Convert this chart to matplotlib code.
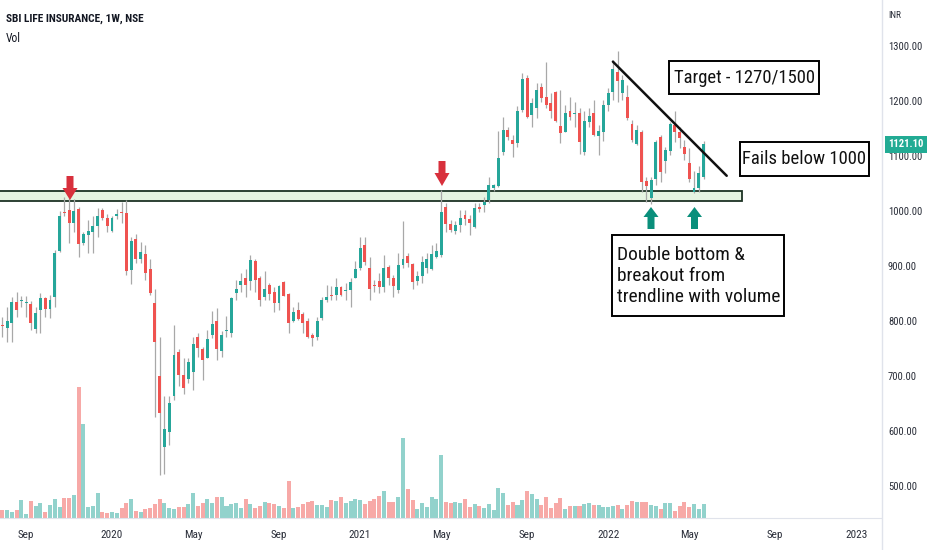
import numpy as np
import pandas as pd
import matplotlib
matplotlib.use("Agg")
import matplotlib.pyplot as plt
import matplotlib.dates as mdates
from matplotlib.patches import Rectangle, Polygon
from matplotlib.lines import Line2D
import logging
logging.getLogger('matplotlib.font_manager').setLevel(logging.ERROR)

plt.rcParams['font.family'] = ['Roboto Condensed', 'Liberation Sans Narrow', 'Liberation Sans', 'DejaVu Sans']

# ---------------- data (weekly candles) ----------------
dates = pd.date_range('2019-07-29', periods=148, freq='7D')

opens = [792, 788, 796, 835, 836, 832, 831, 785, 820, 842, 822, 844, 927, 998, 1001, 979, 1003, 941, 957, 962,
         973, 1002, 987, 964, 990, 998, 997, 892, 949, 913, 921, 894, 833, 700, 570, 598, 664, 743, 702, 694,
         708, 770, 749, 733, 775, 800, 746, 781, 778, 850, 865, 878, 873, 909, 879, 843, 865, 853, 833, 870,
         849, 800, 820, 812, 800, 775, 770, 805, 838, 846, 847, 862, 854, 856, 879, 896, 938, 897, 865, 873,
         862, 898, 879, 856, 902, 918, 903, 873, 882, 897, 895, 917, 920, 1007, 976, 964, 975, 993, 985, 970,
         1008, 1011, 1020, 1041, 1046, 1108, 1147, 1129, 1123, 1184, 1241, 1175, 1187, 1226, 1208, 1197, 1217, 1155, 1144, 1181,
         1176, 1179, 1108, 1162, 1179, 1136, 1144, 1193, 1216, 1253, 1214, 1207, 1159, 1121, 1143, 1055, 1023, 1059, 1135, 1090,
         1109, 1156, 1143, 1117, 1087, 1034, 1041, 1061]
highs = [808, 826, 843, 852, 846, 846, 836, 825, 850, 844, 848, 929, 1000, 1026, 1024, 1021, 1008, 962, 984, 990,
         1005, 1005, 995, 990, 1003, 1017, 1020, 953, 958, 944, 939, 912, 859, 771, 664, 664, 793, 749, 732, 732,
         771, 778, 753, 784, 819, 823, 781, 809, 844, 875, 887, 894, 920, 912, 881, 890, 869, 861, 865, 873,
         850, 826, 835, 817, 806, 779, 808, 844, 865, 864, 879, 863, 869, 878, 909, 953, 953, 917, 875, 887,
         920, 902, 884, 923, 982, 923, 905, 890, 918, 923, 938, 941, 1038, 1014, 984, 981, 1002, 1002, 993, 1014,
         1015, 1025, 1062, 1049, 1145, 1171, 1153, 1138, 1190, 1250, 1247, 1205, 1232, 1232, 1271, 1214, 1219, 1220, 1193, 1208,
         1199, 1188, 1181, 1187, 1202, 1156, 1202, 1223, 1275, 1290, 1247, 1229, 1165, 1156, 1147, 1062, 1062, 1129, 1138, 1117,
         1162, 1181, 1153, 1129, 1114, 1073, 1081, 1127]
lows = [771, 762, 762, 808, 826, 808, 784, 778, 778, 808, 806, 826, 925, 990, 942, 962, 916, 938, 923, 924,
        953, 984, 961, 962, 985, 978, 884, 867, 905, 905, 875, 847, 626, 520, 521, 575, 656, 681, 668, 687,
        675, 735, 693, 732, 769, 729, 735, 771, 771, 838, 853, 844, 856, 853, 827, 838, 838, 817, 820, 845,
        779, 799, 802, 779, 769, 755, 766, 802, 835, 838, 839, 845, 838, 825, 878, 893, 902, 838, 853, 850,
        853, 865, 844, 850, 896, 899, 859, 865, 869, 887, 893, 914, 917, 962, 962, 959, 962, 975, 956, 969,
        999, 998, 1014, 1037, 1044, 1102, 1129, 1099, 1117, 1180, 1169, 1152, 1169, 1199, 1187, 1169, 1162, 1123, 1143, 1165,
        1153, 1103, 1102, 1153, 1136, 1102, 1128, 1181, 1202, 1199, 1202, 1165, 1126, 1120, 1035, 1017, 1012, 1047, 1053, 1069,
        1102, 1126, 1114, 1093, 1053, 1032, 1035, 1058]
closes = [790, 800, 834, 820, 838, 834, 796, 815, 841, 822, 838, 923, 991, 996, 979, 1000, 940, 958, 964, 973,
          991, 987, 973, 987, 995, 996, 891, 945, 912, 925, 888, 851, 761, 633, 603, 650, 738, 701, 678, 725,
          758, 750, 729, 767, 795, 749, 775, 783, 842, 859, 873, 865, 911, 875, 838, 859, 849, 832, 864, 846,
          796, 817, 804, 797, 770, 769, 800, 839, 844, 845, 861, 847, 856, 871, 894, 932, 907, 859, 863, 861,
          896, 879, 864, 902, 912, 905, 870, 882, 908, 913, 921, 927, 998, 976, 965, 975, 988, 985, 979, 1005,
          1003, 1017, 1047, 1047, 1096, 1147, 1135, 1121, 1182, 1240, 1170, 1196, 1220, 1205, 1193, 1182, 1164, 1141, 1179, 1170,
          1179, 1126, 1164, 1173, 1138, 1145, 1193, 1214, 1259, 1237, 1238, 1169, 1129, 1147, 1053, 1046, 1056, 1126, 1071, 1111,
          1158, 1143, 1132, 1103, 1059, 1041, 1069, 1121.1]
volume = [8, 8, 6, 8, 18, 4, 17, 12, 15, 6, 13, 19, 11, 20, 20, 23, 131, 94, 11, 12,
          25, 6, 5, 6, 5, 10, 15, 19, 7, 6, 9, 10, 14, 19, 15, 10, 9, 11, 11, 14,
          25, 12, 15, 19, 15, 21, 21, 12, 14, 15, 10, 19, 14, 10, 12, 16, 15, 14, 12, 10,
          37, 10, 11, 14, 16, 17, 13, 13, 11, 18, 17, 21, 15, 17, 19, 18, 14, 17, 19, 22,
          27, 16, 16, 21, 80, 29, 18, 9, 15, 11, 21, 19, 63, 16, 15, 16,
          15, 19, 11, 14, 12, 10, 14, 8, 30, 25, 13, 16, 13, 18, 27, 24, 19, 13, 21, 10,
          15, 20, 9, 12, 12, 12, 14, 15, 13, 13, 11, 11, 12, 13, 9, 13, 17, 16, 16, 16,
          13, 12, 9, 15, 15, 7, 12, 16, 11, 14, 9, 14]

price_ticks = [500, 600, 700, 800, 900, 1000, 1100, 1200, 1300]
time_ticks = ['2019-09-02', '2020-01-06', '2020-05-04', '2020-09-07', '2021-01-04', '2021-05-03',
              '2021-09-06', '2022-01-03', '2022-05-02', '2022-09-05', '2023-01-02']
time_labels = ['Sep', '2020', 'May', 'Sep', '2021', 'May', 'Sep', '2022', 'May', 'Sep', '2023']

support_zone = [1019, 1036]
support_end = '2022-07-19'
trend_dates = ['2022-01-10', '2022-06-26']
trend_prices = [1271.5, 1064]
last_price = 1121.10

# ---------------- styling ----------------
UP, DOWN = '#26a69a', '#ef5350'
VUP, VDOWN = '#92d2cc', '#f7a9a7'
WICK = '#a8a8a8'
W, H = 932, 550

fig = plt.figure(figsize=(W / 100, H / 100), dpi=100)
renderer = fig.canvas.get_renderer()


def fitted_size(s, target_w, weight='normal'):
    t = fig.text(0, 0, s, fontsize=10, fontweight=weight)
    w = t.get_window_extent(renderer).width
    t.remove()
    return 10 * target_w / w


tick_size = fitted_size('1300.00', 34)
xtick_size = fitted_size('2020', 22)

ax = fig.add_axes([0, 32 / H, 881 / W, 518 / H])

x = mdates.date2num(dates)
o = np.array(opens, float); h = np.array(highs, float)
l = np.array(lows, float); c = np.array(closes, float)
up = c >= o
col = np.where(up, UP, DOWN)
vcol = np.where(up, VUP, VDOWN)

# volume overlay
axv = ax.twinx()
axv.bar(x, volume, width=5.9, color=vcol, linewidth=0)
axv.set_ylim(0, 518)
axv.axis('off')
axv.set_zorder(0)
ax.set_zorder(1)
ax.patch.set_visible(False)

# support zone
x_left = x[0] - 30
ax.add_patch(Rectangle((x_left, support_zone[0]), mdates.datestr2num(support_end) - x_left,
                       support_zone[1] - support_zone[0], facecolor='#e6f4e2', edgecolor='#1d3324',
                       linewidth=1.3, zorder=1))

# candles
ax.vlines(x, l, h, color=WICK, linewidth=0.9, zorder=2)
body = np.maximum(np.abs(c - o), 1.6)
ax.bar(x, body, bottom=np.minimum(o, c), width=4.3, color=col, linewidth=0, zorder=3)

# trend line
ax.plot(mdates.datestr2num(trend_dates), trend_prices, color='#111111', linewidth=1.8, zorder=4,
        solid_capstyle='round')

x0 = x[0]
ax.set_xlim(x0 - 0.48 * 7, x0 + 184.2 * 7)
ax.set_ylim(441.8, 1383.6)

ax.yaxis.tick_right()
ax.set_yticks(price_ticks)
ax.set_yticklabels([f'{v:.2f}' for v in price_ticks])
ax.set_xticks(mdates.datestr2num(time_ticks))
ax.set_xticklabels(time_labels)
ax.tick_params(axis='both', length=0, labelcolor='#2a2e39')
ax.tick_params(axis='y', pad=5, labelsize=tick_size)
ax.tick_params(axis='x', pad=9, labelsize=xtick_size)
for s in ['top', 'left', 'right']:
    ax.spines[s].set_visible(False)
ax.spines['bottom'].set_color('#e0e3eb')

# right axis separator
fig.add_artist(Line2D([881.5 / W, 881.5 / W], [0, 1], transform=fig.transFigure,
                      color='#e0e3eb', linewidth=1))

# headers
fig.text(6 / W, 1 - 19 / H, 'SBI LIFE INSURANCE, 1W, NSE',
         fontsize=fitted_size('SBI LIFE INSURANCE, 1W, NSE', 138, 'bold'), fontweight='bold',
         color='#131722', va='center', ha='left')
fig.text(6 / W, 1 - 39 / H, 'Vol', fontsize=fitted_size('Vol', 15), color='#131722',
         va='center', ha='left')
fig.text(888 / W, 1 - 15 / H, 'INR', fontsize=fitted_size('INR', 13), color='#2a2e39',
         va='center', ha='left')

# last price label
ax.annotate(f'{last_price:.2f}', xy=(1.0, last_price), xycoords=('axes fraction', 'data'),
            xytext=(5, 0), textcoords='offset points', fontsize=tick_size, color='white',
            fontweight='bold', va='center', ha='left', annotation_clip=False, zorder=10,
            bbox=dict(boxstyle='square,pad=0.3', fc='#22ab94', ec='none'))


def fx(px):
    return px / W


def fy(py):
    return 1 - py / H


def box(x0_, y0_, x1_, y1_):
    fig.add_artist(Rectangle((fx(x0_), fy(y1_)), (x1_ - x0_) / W, (y1_ - y0_) / H,
                             transform=fig.transFigure, facecolor='white', edgecolor='black',
                             linewidth=1.4, zorder=6))


def arrow(cx, tail_y, head_base_y, tip_y, color, head_w=15, shaft_w=7):
    pts = [(cx - shaft_w / 2, tail_y), (cx + shaft_w / 2, tail_y), (cx + shaft_w / 2, head_base_y),
           (cx + head_w / 2, head_base_y), (cx, tip_y), (cx - head_w / 2, head_base_y),
           (cx - shaft_w / 2, head_base_y)]
    fig.add_artist(Polygon([(fx(a), fy(b)) for a, b in pts], closed=True, transform=fig.transFigure,
                           facecolor=color, edgecolor='none', zorder=7))


# annotation boxes
ann_size = fitted_size('Target - 1270/1500', 140)
box(669, 61, 819, 94)
fig.text(fx(744), fy(78), 'Target - 1270/1500', fontsize=ann_size, ha='center', va='center',
         color='#111111', zorder=8)
box(740, 142, 869, 176)
fig.text(fx(804.5), fy(159), 'Fails below 1000', fontsize=ann_size, ha='center', va='center',
         color='#111111', zorder=8)
box(612, 235, 784, 316)
dbl_size = fitted_size('trendline with volume', 163)
fig.text(fx(617), fy(276), 'Double bottom &\nbreakout from\ntrendline with volume', fontsize=dbl_size,
         ha='left', va='center', linespacing=1.25, color='#111111', zorder=8)

# arrows
RED_ARROW, GREEN_ARROW = '#d8303c', '#0a8f7b'
arrow(70, 176, 188, 200, RED_ARROW)
arrow(442, 161, 173, 186, RED_ARROW)
arrow(651, 229, 217, 207, GREEN_ARROW)
arrow(694.5, 229, 217, 207, GREEN_ARROW)

fig.savefig('out.png', dpi=100, facecolor='white')
